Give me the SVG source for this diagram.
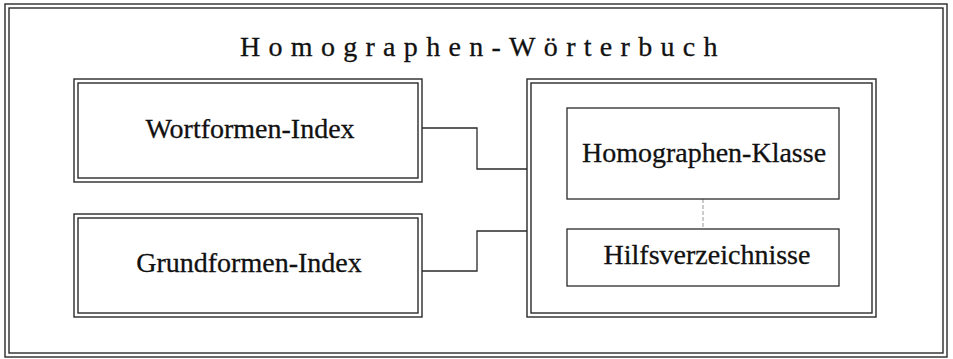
<svg xmlns="http://www.w3.org/2000/svg" width="953" height="359" viewBox="0 0 953 359">
  <style>
    .frame { fill: none; stroke: #2a2a2a; stroke-width: 1.4; }
    .single { fill: #fff; stroke: #2a2a2a; stroke-width: 1.3; }
    .label { font-family: "Liberation Serif", "Times New Roman", serif; font-size: 28px; fill: #111; stroke: #111; stroke-width: 0.3; text-anchor: middle; }
    .title { font-family: "Liberation Serif", "Times New Roman", serif; font-size: 28px; fill: #111; stroke: #111; stroke-width: 0.3; letter-spacing: 8.3px; }
    .conn { fill: none; stroke: #2a2a2a; stroke-width: 1.3; }
    .link { fill: none; stroke: #999; stroke-width: 1; stroke-dasharray: 4 2; }
  </style>
  <rect width="953" height="359" fill="#fff"/>

  <!-- Outer dictionary frame (double line) -->
  <g id="woerterbuch">
    <rect class="frame" x="5" y="4" width="942" height="353"/>
    <rect class="frame" x="9" y="8" width="934" height="345"/>
    <text class="title" x="240" y="56">Homographen-Wörterbuch</text>
  </g>

  <!-- Connectors -->
  <g id="connectors">
    <polyline class="conn" points="422,128 477,128 477,169 527,169"/>
    <polyline class="conn" points="422,271 477,271 477,231 527,231"/>
    <line class="link" x1="703" y1="199" x2="703" y2="229"/>
  </g>

  <g id="wortformen-index">
    <rect class="frame" x="74" y="79" width="348" height="103"/>
    <rect class="frame" x="78" y="83" width="340" height="95"/>
    <text class="label" x="250" y="138">Wortformen-Index</text>
  </g>

  <g id="grundformen-index">
    <rect class="frame" x="74" y="214" width="348" height="103"/>
    <rect class="frame" x="78" y="218" width="340" height="95"/>
    <text class="label" x="249" y="272">Grundformen-Index</text>
  </g>

  <g id="homographen-container">
    <rect class="frame" x="527" y="79" width="349" height="238"/>
    <rect class="frame" x="531" y="83" width="341" height="230"/>
  </g>

  <g id="homographen-klasse">
    <rect class="single" x="567" y="108" width="272" height="91"/>
    <text class="label" x="704" y="162">Homographen-Klasse</text>
  </g>

  <g id="hilfsverzeichnisse">
    <rect class="single" x="567" y="229" width="272" height="57"/>
    <text class="label" x="707" y="264">Hilfsverzeichnisse</text>
  </g>
</svg>
